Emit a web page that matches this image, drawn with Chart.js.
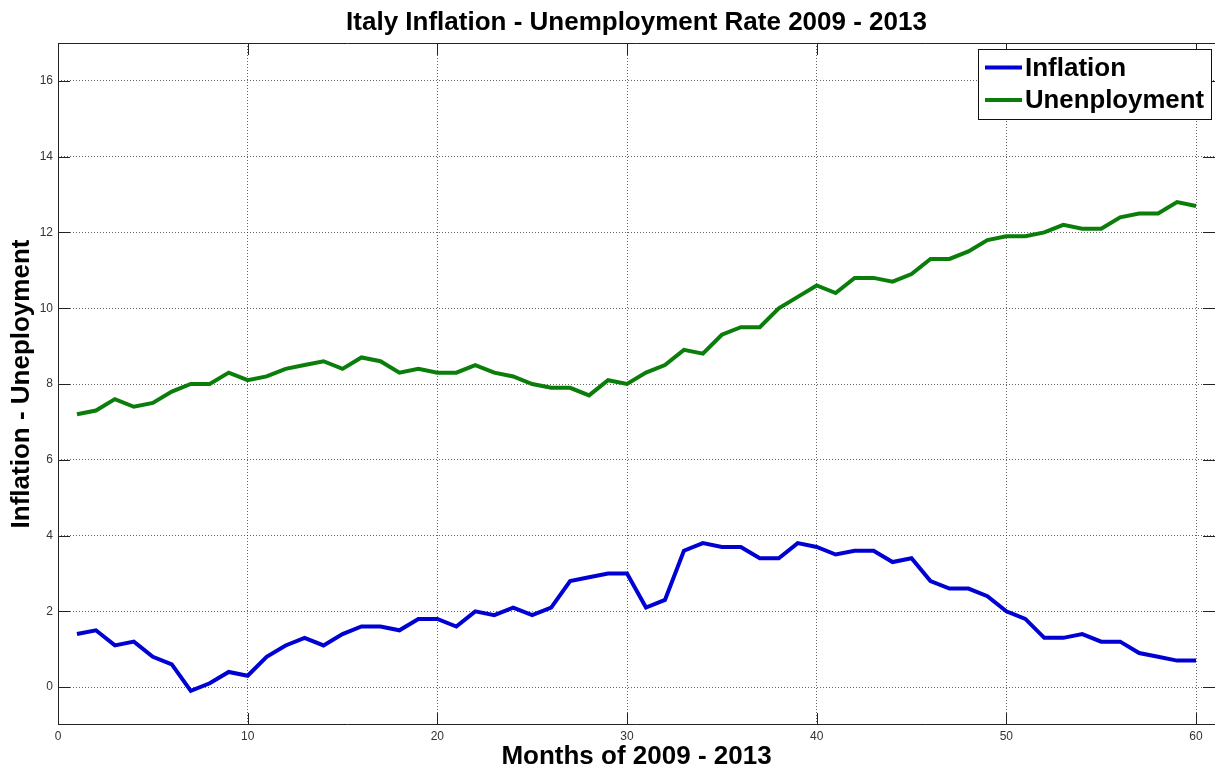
<!DOCTYPE html>
<html>
<head>
<meta charset="utf-8">
<title>Italy Inflation - Unemployment Rate 2009 - 2013</title>
<script src="https://cdn.jsdelivr.net/npm/chart.js@4.4.1/dist/chart.umd.min.js"></script>
<style>
  html, body { margin: 0; padding: 0; background: #fff; }
  #chart { display: block; }
</style>
</head>
<body>
<canvas id="chart" width="1215" height="769"></canvas>
<script>
const months = [
  1, 2, 3, 4, 5, 6, 7, 8, 9, 10, 11, 12, 13, 14, 15, 16, 17, 18, 19, 20,
  21, 22, 23, 24, 25, 26, 27, 28, 29, 30, 31, 32, 33, 34, 35, 36, 37, 38, 39, 40,
  41, 42, 43, 44, 45, 46, 47, 48, 49, 50, 51, 52, 53, 54, 55, 56, 57, 58, 59, 60,
];
const inflation = [
  1.4, 1.5, 1.1, 1.2, 0.8, 0.6, -0.1, 0.1, 0.4, 0.3,
  0.8, 1.1, 1.3, 1.1, 1.4, 1.6, 1.6, 1.5, 1.8, 1.8,
  1.6, 2.0, 1.9, 2.1, 1.9, 2.1, 2.8, 2.9, 3.0, 3.0,
  2.1, 2.3, 3.6, 3.8, 3.7, 3.7, 3.4, 3.4, 3.8, 3.7,
  3.5, 3.6, 3.6, 3.3, 3.4, 2.8, 2.6, 2.6, 2.4, 2.0,
  1.8, 1.3, 1.3, 1.4, 1.2, 1.2, 0.9, 0.8, 0.7, 0.7,
];
const unemployment = [
  7.2, 7.3, 7.6, 7.4, 7.5, 7.8, 8.0, 8.0, 8.3, 8.1,
  8.2, 8.4, 8.5, 8.6, 8.4, 8.7, 8.6, 8.3, 8.4, 8.3,
  8.3, 8.5, 8.3, 8.2, 8.0, 7.9, 7.9, 7.7, 8.1, 8.0,
  8.3, 8.5, 8.9, 8.8, 9.3, 9.5, 9.5, 10.0, 10.3, 10.6,
  10.4, 10.8, 10.8, 10.7, 10.9, 11.3, 11.3, 11.5, 11.8, 11.9,
  11.9, 12.0, 12.2, 12.1, 12.1, 12.4, 12.5, 12.5, 12.8, 12.7,
];
const xTicks = [0, 10, 20, 30, 40, 50, 60];
const yTicks = [0, 2, 4, 6, 8, 10, 12, 14, 16];

const FONT = "'Liberation Sans', Arial, sans-serif";

// MATLAB-ish axes box with inward tick marks, plus the boxed legend
const matlabFrame = {
  id: "matlabFrame",
  afterDatasetsDraw(chart) {
    const { ctx, chartArea: a, scales } = chart;
    const tick = 12;
    ctx.save();
    ctx.strokeStyle = "#222";
    ctx.lineWidth = 1;
    ctx.beginPath();
    ctx.moveTo(a.left + 0.5, a.top + 0.5);
    ctx.lineTo(a.right, a.top + 0.5);
    ctx.moveTo(a.left + 0.5, a.top);
    ctx.lineTo(a.left + 0.5, a.bottom - 0.5);
    ctx.lineTo(a.right, a.bottom - 0.5);
    xTicks.forEach((v) => {
      const px = Math.round(scales.x.getPixelForValue(v)) + 0.5;
      ctx.moveTo(px, a.bottom);
      ctx.lineTo(px, a.bottom - tick);
      ctx.moveTo(px, a.top);
      ctx.lineTo(px, a.top + tick);
    });
    yTicks.forEach((v) => {
      const py = Math.round(scales.y.getPixelForValue(v)) + 0.5;
      ctx.moveTo(a.left, py);
      ctx.lineTo(a.left + tick, py);
      ctx.moveTo(a.right, py);
      ctx.lineTo(a.right - tick, py);
    });
    ctx.stroke();

    // legend
    const boxW = 233;
    const boxH = 70;
    const bx = a.right - 4 - boxW;
    const by = a.top + 6;
    ctx.fillStyle = "#fff";
    ctx.fillRect(bx, by, boxW, boxH);
    ctx.strokeStyle = "#111";
    ctx.strokeRect(bx + 0.5, by + 0.5, boxW, boxH);
    ctx.font = `bold 26px ${FONT}`;
    ctx.textBaseline = "middle";
    ctx.textAlign = "left";
    const rows = [by + 18.5, by + 51];
    chart.data.datasets.forEach((ds, i) => {
      const ry = rows[i];
      ctx.strokeStyle = ds.borderColor;
      ctx.lineWidth = 4;
      ctx.beginPath();
      ctx.moveTo(bx + 7, ry);
      ctx.lineTo(bx + 44, ry);
      ctx.stroke();
      ctx.fillStyle = "#000";
      ctx.fillText(ds.label, bx + 47, ry + 1, 179);
    });
    ctx.restore();
  },
};

const gridStyle = {
  color: "rgba(60,60,60,0.8)",
  lineWidth: 1,
  drawTicks: false,
};

new Chart(document.getElementById("chart"), {
  type: "line",
  data: {
    datasets: [
      {
        label: "Inflation",
        data: months.map((m, i) => ({ x: m, y: inflation[i] })),
        borderColor: "#0000d2",
        borderWidth: 4,
        pointRadius: 0,
        tension: 0,
      },
      {
        label: "Unenployment",
        data: months.map((m, i) => ({ x: m, y: unemployment[i] })),
        borderColor: "#0b7d0b",
        borderWidth: 4,
        pointRadius: 0,
        tension: 0,
      },
    ],
  },
  options: {
    responsive: false,
    animation: false,
    layout: { padding: 0 },
    plugins: {
      legend: { display: false },
      tooltip: { enabled: false },
      title: {
        display: true,
        text: "Italy Inflation - Unemployment Rate 2009 - 2013",
        fullSize: false,
        color: "#000",
        font: { family: FONT, size: 26, weight: "bold", lineHeight: 1 },
        padding: { top: 10, bottom: 7 },
      },
    },
    scales: {
      x: {
        type: "linear",
        min: 0,
        max: 61,
        afterBuildTicks(scale) {
          scale.ticks = xTicks.map((v) => ({ value: v }));
        },
        afterFit(scale) {
          scale.height = 44;
        },
        grid: gridStyle,
        border: { display: false, dash: [1, 2] },
        ticks: {
          color: "#333",
          padding: 4,
          maxRotation: 0,
          font: { family: FONT, size: 12 },
        },
        title: {
          display: true,
          text: "Months of 2009 - 2013",
          color: "#000",
          font: { family: FONT, size: 26, weight: "bold", lineHeight: 1 },
          padding: { top: 0, bottom: -1 },
        },
      },
      y: {
        min: -1,
        max: 17,
        afterBuildTicks(scale) {
          scale.ticks = yTicks.map((v) => ({ value: v }));
        },
        afterFit(scale) {
          scale.width = 58;
        },
        grid: gridStyle,
        border: { display: false, dash: [1, 2] },
        ticks: {
          color: "#333",
          padding: 5,
          font: { family: FONT, size: 12 },
        },
        title: {
          display: true,
          text: "Inflation - Uneployment",
          color: "#000",
          font: { family: FONT, size: 26, weight: "bold", lineHeight: 1 },
          padding: { top: 9, bottom: 0 },
        },
      },
    },
  },
  plugins: [matlabFrame],
});
</script>
</body>
</html>
